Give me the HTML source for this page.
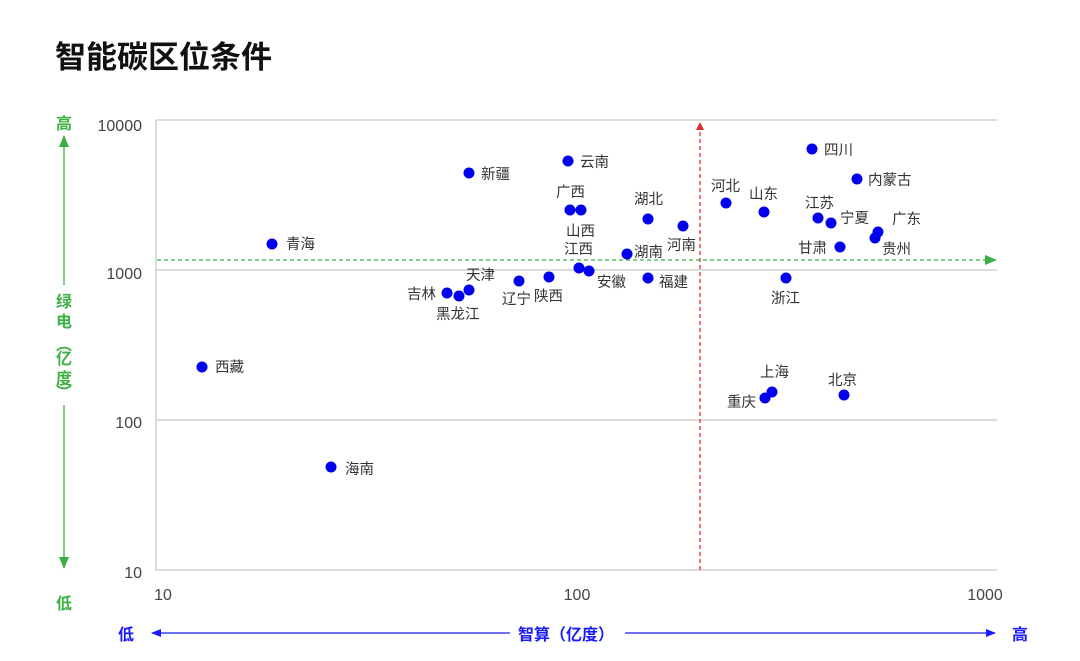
<!DOCTYPE html>
<html><head><meta charset="utf-8"><style>
body{margin:0;background:#fff}
svg{display:block;font-family:"Liberation Sans","Noto Sans CJK SC",sans-serif}
</style></head><body>
<svg width="1080" height="661" viewBox="0 0 1080 661">
<defs>
<marker id="ar" markerWidth="8" markerHeight="8" refX="7" refY="4" orient="auto" markerUnits="userSpaceOnUse"><path d="M0,0L8,4L0,8z" fill="#e03030"/></marker>
<marker id="ag" markerWidth="12" markerHeight="10" refX="11" refY="5" orient="auto" markerUnits="userSpaceOnUse"><path d="M0,0L12,5L0,10z" fill="#3cb043"/></marker>
<marker id="ab" markerWidth="10" markerHeight="8" refX="9" refY="4" orient="auto" markerUnits="userSpaceOnUse"><path d="M0,0L10,4L0,8z" fill="#1a1aff"/></marker>
</defs>
<text x="55" y="68" font-size="31" font-weight="bold" fill="#111">智能碳区位条件</text>
<g stroke="#c8c8c8" stroke-width="1.3">
<line x1="156" y1="120" x2="997" y2="120"/><line x1="156" y1="270" x2="997" y2="270"/>
<line x1="156" y1="420" x2="997" y2="420"/><line x1="156" y1="570" x2="997" y2="570"/>
<line x1="156" y1="120" x2="156" y2="570"/>
</g>
<g font-size="16" fill="#444" text-anchor="end">
<text x="142" y="131">10000</text><text x="142" y="279">1000</text><text x="142" y="428">100</text><text x="142" y="578">10</text>
</g>
<g font-size="16" fill="#444" text-anchor="middle">
<text x="163" y="600">10</text><text x="577" y="600">100</text><text x="985" y="600">1000</text>
</g>
<line x1="700" y1="570" x2="700" y2="123" stroke="#e03030" stroke-width="1.3" stroke-dasharray="4,3" marker-end="url(#ar)"/>
<line x1="157" y1="260" x2="996" y2="260" stroke="#3cb043" stroke-width="1.3" stroke-dasharray="4,3" marker-end="url(#ag)"/>
<g font-size="16" font-weight="bold" fill="#3cb043" text-anchor="middle">
<text x="64" y="129">高</text><text x="64" y="609">低</text>
<text x="64" y="307">绿</text><text x="64" y="327">电</text><text x="64" y="350">︵</text><text x="64" y="364">亿</text><text x="64" y="384">度</text><text x="64" y="398">︶</text>
</g>
<line x1="64" y1="285" x2="64" y2="136" stroke="#3cb043" stroke-width="1.3" marker-end="url(#ag)"/>
<line x1="64" y1="405" x2="64" y2="568" stroke="#3cb043" stroke-width="1.3" marker-end="url(#ag)"/>
<g font-size="16" font-weight="bold" fill="#1a1aff">
<text x="118" y="640">低</text><text x="518" y="640">智算（亿度）</text><text x="1012" y="640">高</text>
</g>
<line x1="510" y1="633" x2="152" y2="633" stroke="#1a1aff" stroke-width="1.2" marker-end="url(#ab)"/>
<line x1="625" y1="633" x2="995" y2="633" stroke="#1a1aff" stroke-width="1.2" marker-end="url(#ab)"/>
<g fill="#0000ee">
<circle cx="272" cy="244" r="5.5"/><circle cx="202" cy="367" r="5.5"/><circle cx="331" cy="467" r="5.5"/>
<circle cx="469" cy="173" r="5.5"/><circle cx="568" cy="161" r="5.5"/><circle cx="570" cy="210" r="5.5"/><circle cx="581" cy="210" r="5.5"/>
<circle cx="648" cy="219" r="5.5"/><circle cx="683" cy="226" r="5.5"/><circle cx="627" cy="254" r="5.5"/>
<circle cx="579" cy="268" r="5.5"/><circle cx="589" cy="271" r="5.5"/><circle cx="648" cy="278" r="5.5"/>
<circle cx="549" cy="277" r="5.5"/><circle cx="519" cy="281" r="5.5"/><circle cx="469" cy="290" r="5.5"/>
<circle cx="447" cy="293" r="5.5"/><circle cx="459" cy="296" r="5.5"/>
<circle cx="726" cy="203" r="5.5"/><circle cx="764" cy="212" r="5.5"/><circle cx="812" cy="149" r="5.5"/>
<circle cx="857" cy="179" r="5.5"/><circle cx="818" cy="218" r="5.5"/><circle cx="831" cy="223" r="5.5"/>
<circle cx="878" cy="232" r="5.5"/><circle cx="840" cy="247" r="5.5"/><circle cx="875" cy="238" r="5.5"/>
<circle cx="786" cy="278" r="5.5"/><circle cx="772" cy="392" r="5.5"/><circle cx="765" cy="398" r="5.5"/><circle cx="844" cy="395" r="5.5"/>
</g>
<g font-size="14.5" fill="#333">
<text x="286" y="249">青海</text><text x="215" y="372">西藏</text><text x="345" y="474">海南</text>
<text x="481" y="179">新疆</text><text x="580" y="167">云南</text><text x="556" y="197">广西</text>
<text x="566" y="236">山西</text><text x="564" y="254">江西</text><text x="634" y="204">湖北</text>
<text x="667" y="250">河南</text><text x="634" y="257">湖南</text><text x="597" y="287">安徽</text>
<text x="659" y="287">福建</text><text x="534" y="301">陕西</text><text x="502" y="304">辽宁</text>
<text x="466" y="280">天津</text><text x="407" y="299">吉林</text><text x="436" y="319">黑龙江</text>
<text x="711" y="191">河北</text><text x="749" y="199">山东</text><text x="824" y="155">四川</text>
<text x="868" y="185">内蒙古</text><text x="805" y="208">江苏</text><text x="840" y="223">宁夏</text>
<text x="892" y="224">广东</text><text x="798" y="253">甘肃</text><text x="882" y="254">贵州</text>
<text x="771" y="303">浙江</text><text x="760" y="377">上海</text><text x="727" y="407">重庆</text><text x="828" y="385">北京</text>
</g>
</svg>
</body></html>
